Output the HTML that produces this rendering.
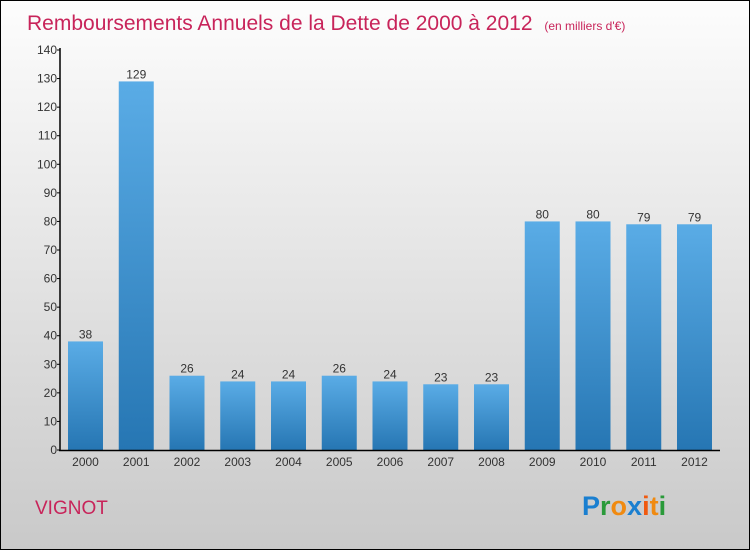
<!DOCTYPE html>
<html><head><meta charset="utf-8"><style>
html,body{margin:0;padding:0;width:750px;height:550px;overflow:hidden}
svg{display:block;font-family:"Liberation Sans",sans-serif}
</style></head><body>
<svg id="chart" width="750" height="550">
<defs>
<linearGradient id="bg" x1="0" y1="0" x2="0" y2="1"><stop offset="0" stop-color="#fdfdfd"/><stop offset="1" stop-color="#c9c9c9"/></linearGradient>
<linearGradient id="bar" x1="0" y1="0" x2="0" y2="1"><stop offset="0" stop-color="#5aace6"/><stop offset="1" stop-color="#2676b3"/></linearGradient>
</defs>
<rect x="0.5" y="0.5" width="749" height="549" fill="url(#bg)" stroke="#000"/>
<text x="27" y="30" font-size="21" fill="#c8245a">Remboursements Annuels de la Dette de 2000 à 2012 <tspan font-size="12" dx="6">(en milliers d'€)</tspan></text>
<g id="bars"></g>
<line x1="60" y1="48" x2="60" y2="451" stroke="#000" stroke-width="1.5"/>
<line x1="59" y1="450.5" x2="720" y2="450.5" stroke="#000" stroke-width="1.5"/>
<g id="ticks"></g>
<text x="35" y="514" font-size="19" fill="#c8245a">VIGNOT</text>
<text x="582" y="515" font-size="27" font-weight="bold"><tspan fill="#1a7fd0">P</tspan><tspan fill="#2a9a3a">r</tspan><tspan fill="#f08a10">o</tspan><tspan fill="#1a7fd0">x</tspan><tspan fill="#f05a10">i</tspan><tspan fill="#f08a10">t</tspan><tspan fill="#2a9a3a">i</tspan></text>
</svg>
<script>
const categories=["2000","2001","2002","2003","2004","2005","2006","2007","2008","2009","2010","2011","2012"];
const values=[38,129,26,24,24,26,24,23,23,80,80,79,79];
const yTicks=[0,10,20,30,40,50,60,70,80,90,100,110,120,130,140];
const NS="http://www.w3.org/2000/svg";
const y=v=>450-v*400/140;
const x=i=>85.5+i*50.75;
const bars=document.getElementById('bars'),ticks=document.getElementById('ticks');
function mk(t,a,p){const e=document.createElementNS(NS,t);for(const k in a)e.setAttribute(k,a[k]);p.appendChild(e);return e;}
values.forEach((v,i)=>{
 const r=mk('rect',{x:x(i)-17.5,y:y(v),width:35,height:450-y(v),fill:'url(#bar)'},bars);
 
 
 const t=mk('text',{x:x(i),y:y(v)-3,'font-size':12,fill:'#333','text-anchor':'middle'},bars);
 t.textContent=v;
 
 
 const c=mk('text',{x:x(i),y:466,'font-size':12,fill:'#333','text-anchor':'middle'},ticks);
 c.textContent=categories[i];
 
 
});
yTicks.forEach(v=>{
 mk('line',{x1:57,x2:60,y1:y(v),y2:y(v),stroke:'#000'},ticks);
 const t=mk('text',{x:57,y:y(v)+4,'font-size':12,fill:'#333','text-anchor':'end'},ticks);
 t.textContent=v;
 
 
});
</script>
</body></html>
